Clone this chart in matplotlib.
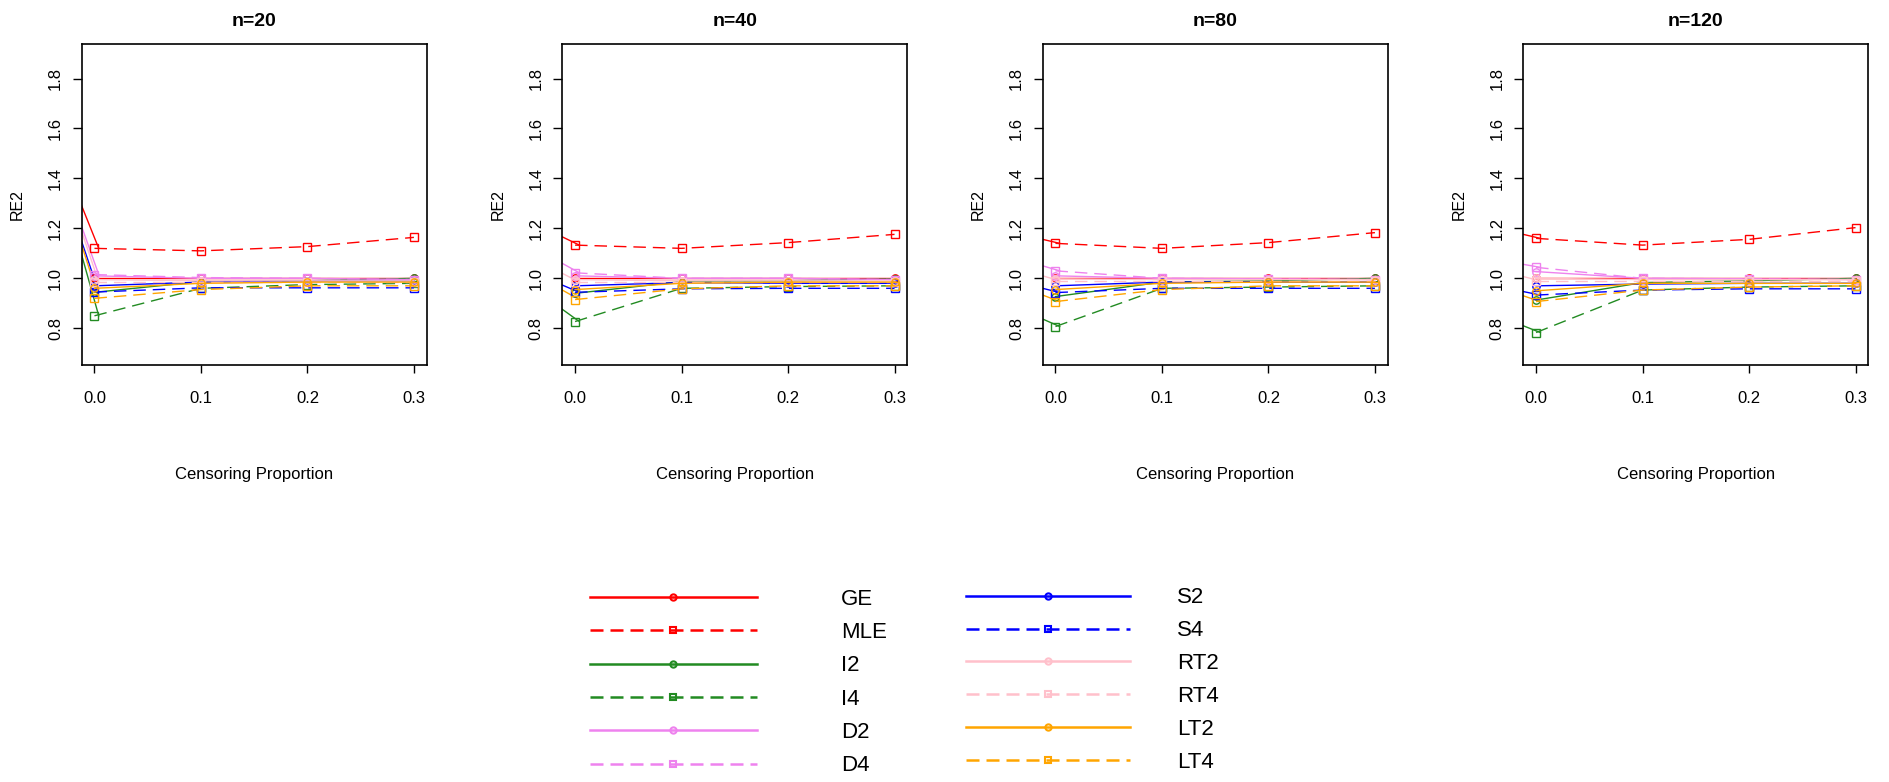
import matplotlib
matplotlib.use('Agg')
import matplotlib.pyplot as plt
from matplotlib.lines import Line2D

plt.rcParams['font.family'] = ['Liberation Sans', 'DejaVu Sans']

# censoring proportions and panel titles
X = [0.0, 0.1, 0.2, 0.3]
PANELS = ['n=20', 'n=40', 'n=80', 'n=120']

# RE2 values, one row per panel (n=20, 40, 80, 120), one column per censoring proportion
GE = [[1.00, 1.00, 1.00, 1.00], [1.00, 1.00, 1.00, 1.00], [1.00, 1.00, 1.00, 1.00], [1.00, 1.00, 1.00, 1.00]]
MLE = [[1.12, 1.11, 1.127, 1.164], [1.133, 1.12, 1.143, 1.176], [1.14, 1.12, 1.143, 1.183], [1.16, 1.133, 1.156, 1.203]]
I2 = [[0.944, 0.987, 0.99, 1.00], [0.94, 0.987, 0.99, 0.998], [0.927, 0.985, 0.99, 1.00], [0.913, 0.983, 0.99, 1.00]]
I4 = [[0.85, 0.96, 0.975, 0.98], [0.827, 0.96, 0.967, 0.97], [0.807, 0.96, 0.965, 0.97], [0.783, 0.953, 0.965, 0.97]]
D2 = [[1.01, 1.00, 1.00, 0.995], [1.01, 1.00, 1.00, 0.995], [1.01, 1.00, 0.998, 0.995], [1.027, 1.00, 0.998, 0.995]]
D4 = [[1.015, 1.003, 1.00, 0.995], [1.022, 1.00, 1.00, 0.995], [1.03, 1.00, 0.998, 0.995], [1.044, 1.00, 0.998, 0.995]]
S2 = [[0.97, 0.985, 0.99, 0.99], [0.97, 0.983, 0.98, 0.98], [0.97, 0.985, 0.985, 0.985], [0.97, 0.977, 0.98, 0.98]]
S4 = [[0.945, 0.962, 0.962, 0.962], [0.944, 0.958, 0.96, 0.96], [0.943, 0.96, 0.96, 0.96], [0.933, 0.953, 0.958, 0.958]]
RT2 = [[0.995, 0.99, 0.99, 0.99], [0.995, 0.99, 0.99, 0.99], [0.998, 0.995, 0.995, 0.995], [1.00, 0.995, 0.995, 0.995]]
RT4 = [[0.985, 0.985, 0.985, 0.985], [0.985, 0.985, 0.985, 0.985], [0.99, 0.99, 0.99, 0.99], [0.99, 0.99, 0.99, 0.99]]
LT2 = [[0.96, 0.98, 0.985, 0.985], [0.955, 0.98, 0.985, 0.985], [0.955, 0.98, 0.985, 0.985], [0.95, 0.98, 0.98, 0.98]]
LT4 = [[0.92, 0.955, 0.97, 0.97], [0.915, 0.958, 0.97, 0.97], [0.907, 0.955, 0.97, 0.97], [0.907, 0.953, 0.965, 0.97]]

# solid lead-in lines entering from the left edge (value at the left edge, per panel)
LEAD_MLE = [1.29, 1.166, 1.156, 1.176]
LEAD_D4 = [1.207, 1.06, 1.05, 1.056]
LEAD_RT4 = [1.187, 1.02, 1.01, 1.007]
LEAD_S4 = [1.147, 0.973, 0.96, 0.947]
LEAD_LT4 = [1.133, 0.953, 0.933, 0.93]
LEAD_I4 = [1.093, 0.876, 0.837, 0.81]

GREEN = '#228B22'
DASH = (0, (9, 5))
LEG_DASH = (0, (5.2, 2.8))

# (label, data, colour, dashed?)
SERIES = [
    ('GE', GE, 'red', False), ('MLE', MLE, 'red', True),
    ('I2', I2, GREEN, False), ('I4', I4, GREEN, True),
    ('D2', D2, 'violet', False), ('D4', D4, 'violet', True),
    ('S2', S2, 'blue', False), ('S4', S4, 'blue', True),
    ('RT2', RT2, 'pink', False), ('RT4', RT4, 'pink', True),
    ('LT2', LT2, 'orange', False), ('LT4', LT4, 'orange', True),
]
LEADS = [(LEAD_MLE, MLE, 'red'), (LEAD_I4, I4, GREEN), (LEAD_D4, D4, 'violet'),
         (LEAD_S4, S4, 'blue'), (LEAD_RT4, RT4, 'pink'), (LEAD_LT4, LT4, 'orange')]

XLIM = (-0.012, 0.312)
YLIM = (0.653, 1.937)

W, H = 1889, 782
fig = plt.figure(figsize=(W / 100, H / 100), dpi=100)

lefts = [81.7, 562.3, 1042.7, 1523.3]   # axes left edges in pixels
ax_w, ax_top, ax_bot = 345, 44.3, 365

for p, title in enumerate(PANELS):
    ax = fig.add_axes([lefts[p] / W, 1 - ax_bot / H, ax_w / W, (ax_bot - ax_top) / H])
    # lead-in lines from the left edge, ending just past the x=0 point
    for lead, data, col in LEADS:
        ax.plot([XLIM[0], 0.004], [lead[p], data[p][0]], color=col, lw=1.0)
    for label, data, col, dashed in SERIES:
        ax.plot(X, data[p], color=col, lw=1.0, ls=DASH if dashed else '-',
                marker='s' if dashed else 'o', markersize=5.3, mfc='none', mew=1.0)
    ax.set_xlim(XLIM)
    ax.set_ylim(YLIM)
    ax.set_xticks(X)
    ax.set_xticklabels(['0.0', '0.1', '0.2', '0.3'])
    ax.set_yticks([0.8, 1.0, 1.2, 1.4, 1.6, 1.8])
    ax.set_yticklabels(['0.8', '1.0', '1.2', '1.4', '1.6', '1.8'], rotation=90, va='center')
    ax.tick_params(axis='x', length=6, width=1.0, pad=12.5, labelsize=12)
    ax.tick_params(axis='y', length=6.5, width=1.0, pad=7, labelsize=12)
    for s in ax.spines.values():
        s.set_linewidth(1.2)
    ax.set_title(title, fontsize=14, fontweight='bold', pad=13)
    ax.set_ylabel('RE2', fontsize=11.5)
    ax.yaxis.set_label_coords(-0.165, 0.5)
    ax.set_xlabel('Censoring Proportion', fontsize=12)
    ax.xaxis.set_label_coords(0.5, -0.318)

# legend below the panels: two separate columns, as R spaces them differently
handles = [Line2D([0], [0], color=col, lw=1.8, ls=LEG_DASH if dashed else '-',
                  marker='s' if dashed else 'o', markersize=4.5, mfc='none', mew=1.5)
           for label, data, col, dashed in SERIES]
labels = [s[0] for s in SERIES]
fig.legend(handles[:6], labels[:6], loc='upper left', bbox_to_anchor=(590 / W, 1 - 588.6 / H),
           frameon=False, fontsize=16, handlelength=7.5, handletextpad=3.8,
           labelspacing=0.556, borderpad=0, borderaxespad=0, numpoints=1)
fig.legend(handles[6:], labels[6:], loc='upper left', bbox_to_anchor=(966 / W, 1 - 587.4 / H),
           frameon=False, fontsize=16, handlelength=7.4, handletextpad=2.1,
           labelspacing=0.536, borderpad=0, borderaxespad=0, numpoints=1)

fig.savefig('out.png', dpi=100)
